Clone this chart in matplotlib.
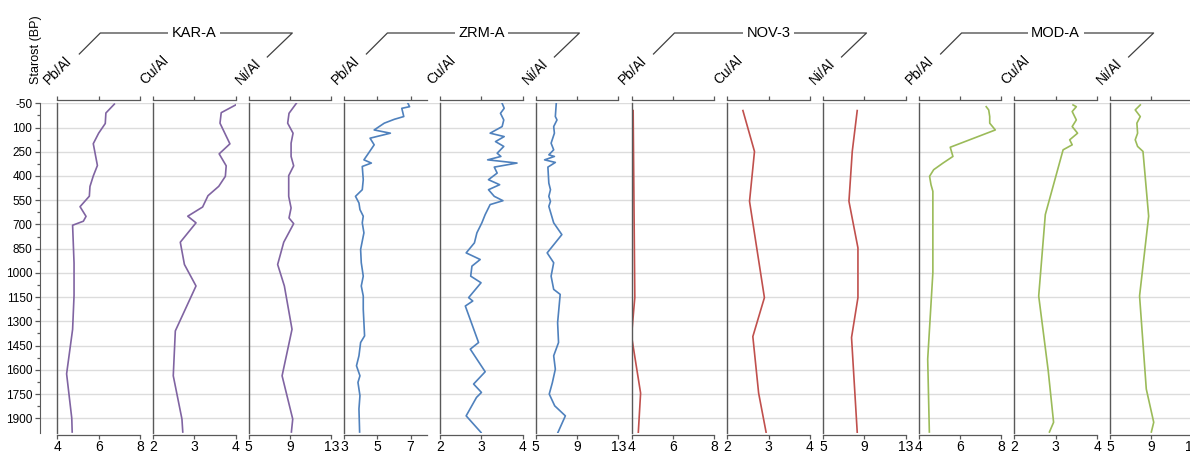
import matplotlib.pyplot as plt
from matplotlib.lines import Line2D

plt.rcParams['font.family'] = ['Liberation Sans', 'DejaVu Sans']

W, H = 1190, 453

sites = ['KAR-A', 'ZRM-A', 'NOV-3', 'MOD-A']
ratios = ['Pb/Al', 'Cu/Al', 'Ni/Al']
colors = ['#8064A2', '#4F81BD', '#C0504D', '#9BBB59']

age_ticks = [-50, 100, 250, 400, 550, 700, 850, 1000, 1150, 1300, 1450, 1600, 1750, 1900]
age_minor = [25, 175, 325, 475, 625, 775, 925, 1075, 1225, 1375, 1525, 1675, 1825]

pb_ticks = [4, 6, 8]
pb_ticks_zrm = [3, 5, 7]
cu_ticks = [2, 3, 4]
ni_ticks = [5, 9, 13]

# KAR-A
kar_pb_age = [-45, 10, 75, 135, 200, 335, 400, 465, 525, 590, 650, 680, 705, 940, 1140, 1350, 1625, 1900, 1985]
kar_pb = [6.76, 6.35, 6.32, 6.0, 5.74, 5.94, 5.74, 5.58, 5.55, 5.1, 5.39, 5.26, 4.74, 4.81, 4.81, 4.74, 4.45, 4.7, 4.72]
kar_cu_age = [-40, 8, 73, 201, 263, 337, 402, 464, 522, 592, 649, 690, 810, 948, 1081, 1359, 1637, 1905, 1985]
kar_cu = [4.0, 3.65, 3.62, 3.86, 3.6, 3.77, 3.75, 3.59, 3.33, 3.2, 2.84, 3.04, 2.66, 2.76, 3.04, 2.54, 2.49, 2.70, 2.72]
kar_ni_age = [-50, 12, 73, 135, 197, 279, 337, 398, 526, 598, 660, 695, 810, 948, 1081, 1349, 1637, 1905, 1985]
kar_ni = [9.61, 8.9, 8.77, 9.29, 9.1, 9.1, 9.35, 8.87, 8.87, 9.1, 8.9, 9.35, 8.39, 7.8, 8.45, 9.19, 8.23, 9.26, 9.13]

# ZRM-A
zrm_pb_age = [-50, -29, -19, 32, 49, 73, 115, 135, 166, 207, 269, 300, 320, 341, 423, 485, 526, 567, 608,
              649, 690, 752, 855, 937, 1020, 1081, 1143, 1225, 1390, 1431, 1513, 1575, 1637, 1678, 1760,
              1842, 1985]
zrm_pb = [6.84, 6.94, 6.47, 6.59, 6.02, 5.41, 4.8, 5.78, 4.55, 4.8, 4.39, 4.18, 4.63, 4.08, 4.14, 4.08, 3.67,
          3.88, 3.94, 4.14, 4.08, 4.18, 3.98, 4.02, 4.14, 4.02, 4.14, 4.14, 4.22, 3.98, 3.88, 3.73, 3.94,
          3.82, 3.94, 3.88, 3.92]
zrm_cu_age = [-50, -19, 12, 53, 94, 135, 156, 187, 217, 259, 279, 300, 320, 345, 382, 423, 454, 485, 526,
              553, 577, 639, 690, 752, 814, 876, 917, 958, 1020, 1061, 1153, 1174, 1205, 1431, 1472, 1612,
              1688, 1740, 1771, 1885, 1988]
zrm_cu = [3.5, 3.55, 3.46, 3.54, 3.5, 3.21, 3.55, 3.34, 3.54, 3.38, 3.47, 3.15, 3.86, 3.31, 3.38, 3.17, 3.44,
          3.17, 3.31, 3.52, 3.21, 3.09, 3.01, 2.89, 2.83, 2.63, 2.97, 2.77, 2.74, 2.99, 2.69, 2.79, 2.61,
          2.93, 2.73, 3.09, 2.81, 3.0, 2.88, 2.63, 2.99]
zrm_ni_age = [-50, 32, 53, 94, 135, 197, 238, 269, 279, 300, 316, 345, 444, 485, 526, 557, 588, 690, 763,
              876, 937, 1020, 1102, 1133, 1308, 1431, 1513, 1596, 1680, 1750, 1823, 1885, 1988]
zrm_ni = [6.98, 6.89, 7.05, 6.73, 6.8, 6.48, 6.73, 6.26, 6.8, 5.85, 6.89, 6.17, 6.26, 6.42, 6.26, 6.42, 6.26,
          6.73, 7.52, 6.1, 6.73, 6.48, 6.73, 7.36, 7.11, 7.2, 6.73, 6.89, 6.6, 6.3, 6.83, 7.86, 7.14]

# NOV-3
nov_pb_age = [-5, 1153, 1390, 1744, 1986]
nov_pb = [4.08, 4.16, 4.0, 4.44, 4.33]
nov_cu_age = [-5, 248, 557, 1153, 1394, 1744, 1986]
nov_cu = [2.38, 2.66, 2.54, 2.9, 2.62, 2.76, 2.94]
nov_ni_age = [-5, 248, 557, 845, 1153, 1400, 1986]
nov_ni = [8.32, 7.84, 7.52, 8.39, 8.39, 7.77, 8.32]

# MOD-A
mod_pb_age = [-29, -9, 32, 73, 115, 222, 279, 320, 361, 402, 454, 495, 999, 1534, 1985]
mod_pb = [7.27, 7.39, 7.44, 7.44, 7.71, 5.53, 5.66, 5.18, 4.73, 4.53, 4.6, 4.69, 4.69, 4.44, 4.52]
mod_cu_age = [-40, -29, 1, 53, 94, 135, 176, 207, 238, 639, 1143, 1605, 1925, 1985]
mod_cu = [3.42, 3.5, 3.4, 3.5, 3.4, 3.53, 3.34, 3.4, 3.18, 2.75, 2.59, 2.82, 2.95, 2.85]
mod_ni_age = [-40, -9, 32, 73, 135, 176, 217, 248, 649, 1143, 1719, 1925, 1985]
mod_ni = [7.93, 7.44, 7.93, 7.6, 7.67, 7.44, 7.67, 8.19, 8.74, 7.86, 8.51, 9.23, 9.0]

series = [
    [(kar_pb_age, kar_pb), (kar_cu_age, kar_cu), (kar_ni_age, kar_ni)],
    [(zrm_pb_age, zrm_pb), (zrm_cu_age, zrm_cu), (zrm_ni_age, zrm_ni)],
    [(nov_pb_age, nov_pb), (nov_cu_age, nov_cu), (nov_ni_age, nov_ni)],
    [(mod_pb_age, mod_pb), (mod_cu_age, mod_cu), (mod_ni_age, mod_ni)],
]


def fx(px):
    return px / W


def fy(py):
    return 1 - py / H


fig = plt.figure(figsize=(W / 100, H / 100), dpi=100)

top_px, bot_px = 103.3, 433.3
ylims = (1993, -50)
axis_grey = '#595959'

# background axis: age scale and gridlines
bg = fig.add_axes([fx(40), fy(bot_px), fx(W - 40), (bot_px - top_px) / H])
bg.set_ylim(*ylims)
bg.set_xlim(0, 1)
bg.set_yticks(age_ticks)
bg.set_yticklabels([str(t) for t in age_ticks], fontsize=8.5)
bg.set_yticks(age_minor, minor=True)
bg.set_xticks([])
bg.grid(axis='y', color='#dcdcdc', linewidth=1)
bg.set_axisbelow(True)
for side in ['top', 'right', 'bottom']:
    bg.spines[side].set_visible(False)
bg.spines['left'].set_color(axis_grey)
bg.tick_params(axis='y', which='major', length=3.6, width=0.9, color=axis_grey, pad=2)
bg.tick_params(axis='y', which='minor', length=2.2, width=0.9, color=axis_grey)
fig.text(fx(36), fy(49.5), 'Starost (BP)', rotation=90, ha='center', va='center', fontsize=9)

panel_w = 82.7
step = 95.7
for s, site in enumerate(sites):
    for r, ratio in enumerate(ratios):
        i = s * 3 + r
        x0 = 57.3 + i * step
        ax = fig.add_axes([fx(x0), fy(bot_px), panel_w / W, (bot_px - top_px) / H])
        ax.patch.set_alpha(0)
        ages, vals = series[s][r]
        ax.plot(vals, ages, color=colors[s], linewidth=1.2)
        ax.set_ylim(*ylims)
        if r == 0:
            ticks = pb_ticks_zrm if site == 'ZRM-A' else pb_ticks
            ax.set_xlim(ticks[0], 8)
        elif r == 1:
            ticks = cu_ticks
            ax.set_xlim(2, 4)
        else:
            ticks = ni_ticks
            ax.set_xlim(5, 13)
        ax.set_xticks(ticks)
        ax.set_xticklabels([str(t) for t in ticks], fontsize=5)
        ax.set_yticks([])
        ax.spines['right'].set_visible(False)
        ax.spines['top'].set_position(('outward', 2.2))
        ax.spines['bottom'].set_position(('outward', 1.5))
        for side in ['top', 'bottom']:
            ax.spines[side].set_color(axis_grey)
            ax.spines[side].set_linewidth(0.9)
        ax.spines['left'].set_color(axis_grey)
        ax.spines['left'].set_linewidth(1.0)
        ax.tick_params(axis='x', top=True, bottom=True, labeltop=False, labelbottom=True,
                       direction='out', length=2.6, width=0.9, color=axis_grey, pad=0.5)

        fig.text(fx(x0 - 8), fy(85), ratio, rotation=45, rotation_mode='anchor',
                 ha='left', va='baseline', fontsize=10)

    # site bracket over the three panels
    g0 = 57.3 + s * 3 * step
    bx = [g0 + 22, g0 + 43, g0 + 235, g0 + 210]
    by = [54, 33, 33, 57]
    fig.add_artist(Line2D([fx(v) for v in bx], [fy(v) for v in by], color='#404040', linewidth=0.9))
    fig.text(fx(g0 + 137), fy(33), site, ha='center', va='center', fontsize=10.5,
             bbox=dict(facecolor='white', edgecolor='none', pad=2.5))

fig.savefig('out.png', dpi=100)
